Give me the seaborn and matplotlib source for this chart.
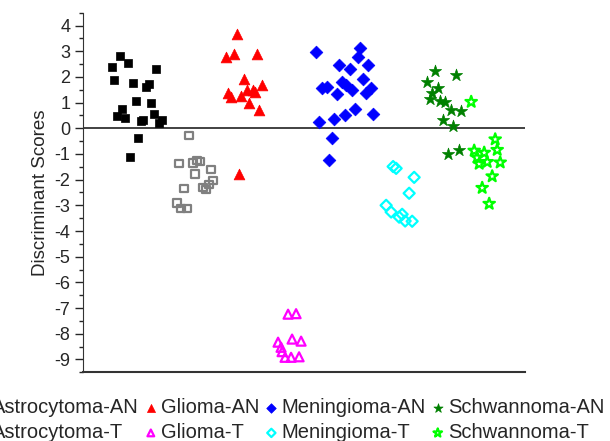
import pandas as pd
import matplotlib
matplotlib.use("Agg")
import matplotlib.pyplot as plt
from matplotlib.ticker import MultipleLocator
import seaborn as sns

# jittered positions along the (unlabelled) x axis and discriminant scores
astro_an_x = [37, 29, 45, 73, 31, 50, 63, 66, 53, 68, 39, 34, 42, 71, 58, 60, 76, 79, 55, 47]
astro_an_y = [2.82, 2.40, 2.53, 2.31, 1.88, 1.75, 1.62, 1.71, 1.07, 0.99, 0.74, 0.48, 0.41,
              0.56, 0.29, 0.34, 0.21, 0.32, -0.38, -1.12]
astro_t_x = [106, 96, 110, 114, 117, 128, 112, 101, 120, 123, 126, 130, 94, 98, 104]
astro_t_y = [-0.29, -1.38, -1.35, -1.25, -1.30, -1.61, -1.78, -2.33, -2.32, -2.38, -2.20,
             -2.03, -2.91, -3.13, -3.12]
glioma_an_x = [154, 143, 151, 174, 161, 179, 145, 148, 164, 170, 172, 158, 166, 176, 156]
glioma_an_y = [3.69, 2.77, 2.88, 2.90, 1.91, 1.69, 1.38, 1.22, 1.48, 1.50, 1.43, 1.25,
               0.99, 0.73, -1.78]
glioma_t_x = [205, 213, 195, 209, 218, 198, 199, 202, 208, 216]
glioma_t_y = [-7.24, -7.22, -8.33, -8.21, -8.29, -8.53, -8.70, -8.92, -8.92, -8.90]
mening_an_x = [233, 277, 275, 256, 267, 285, 239, 244, 259, 263, 280, 269, 254, 283, 288,
               272, 262, 251, 290, 236, 249, 246]
mening_an_y = [2.98, 3.12, 2.77, 2.46, 2.32, 2.46, 1.58, 1.62, 1.80, 1.67, 1.93, 1.49, 1.35,
               1.39, 1.58, 0.77, 0.53, 0.37, 0.56, 0.26, -0.36, -1.25]
mening_t_x = [310, 313, 331, 326, 303, 308, 316, 319, 322, 329]
mening_t_y = [-1.49, -1.56, -1.91, -2.53, -3.00, -3.26, -3.46, -3.35, -3.61, -3.62]
schwan_an_x = [352, 373, 344, 355, 349, 347, 357, 362, 368, 378, 360, 370, 365, 376]
schwan_an_y = [2.23, 2.06, 1.80, 1.56, 1.36, 1.16, 1.07, 1.02, 0.71, 0.68, 0.33, 0.10,
               -1.00, -0.84]
schwan_t_x = [388, 412, 414, 391, 401, 394, 396, 404, 417, 409, 399, 406]
schwan_t_y = [1.03, -0.43, -0.84, -0.87, -0.95, -1.14, -1.38, -1.31, -1.33, -1.87, -2.32, -2.94]

groups = ["Astrocytoma-AN", "Astrocytoma-T", "Glioma-AN", "Glioma-T",
          "Meningioma-AN", "Meningioma-T", "Schwannoma-AN", "Schwannoma-T"]
xs = [astro_an_x, astro_t_x, glioma_an_x, glioma_t_x, mening_an_x, mening_t_x, schwan_an_x, schwan_t_x]
ys = [astro_an_y, astro_t_y, glioma_an_y, glioma_t_y, mening_an_y, mening_t_y, schwan_an_y, schwan_t_y]

df = pd.concat([pd.DataFrame({"x": x, "score": y, "group": g}) for g, x, y in zip(groups, xs, ys)])

# marker, colour, filled, size
styles = {
    "Astrocytoma-AN": ("s", "black", True, 38),
    "Astrocytoma-T": ("s", "#808080", False, 26),
    "Glioma-AN": ("^", "red", True, 60),
    "Glioma-T": ("^", "magenta", False, 42),
    "Meningioma-AN": ("D", "blue", True, 42),
    "Meningioma-T": ("D", "cyan", False, 32),
    "Schwannoma-AN": ("*", "#008000", True, 85),
    "Schwannoma-T": ("*", "#00ff00", False, 75),
}

sns.set_style("white")
plt.rcParams["font.family"] = ["Liberation Sans", "DejaVu Sans"]
plt.rcParams["axes.unicode_minus"] = False

fig, ax = plt.subplots(figsize=(6.1, 4.41), dpi=100)
fig.subplots_adjust(left=0.136, right=0.861, top=0.971, bottom=0.156)

for g in groups:
    m, c, filled, s = styles[g]
    sub = df[df["group"] == g]
    if filled:
        sns.scatterplot(data=sub, x="x", y="score", ax=ax, marker=m, s=s, color=c,
                        edgecolor=c, linewidth=0.5, label=g)
    else:
        sns.scatterplot(data=sub, x="x", y="score", ax=ax, marker=m, s=s, color=c,
                        facecolor="none", edgecolor=c, linewidth=1.6, label=g)

ax.axhline(0, color="#333333", lw=1.3, zorder=0)
ax.set_xlim(0, 442)
ax.set_ylim(-9.5, 4.5)
ax.yaxis.set_major_locator(MultipleLocator(1))
ax.yaxis.set_minor_locator(MultipleLocator(0.5))
ax.tick_params(axis="y", which="major", left=True, length=6, width=1, labelsize=13, pad=3)
ax.tick_params(axis="y", which="minor", left=True, length=3, width=1)
ax.set_xticks([])
ax.set_xlabel("")
ax.set_ylabel("Discriminant Scores", fontsize=13.5, labelpad=4)
for sp in ["top", "right"]:
    ax.spines[sp].set_visible(False)
ax.spines["left"].set_color("#333333")
ax.spines["bottom"].set_color("#333333")
ax.spines["bottom"].set_linewidth(1.5)

# legend is wider than the figure, as in the original (outer columns clipped)
handles, labels = ax.get_legend_handles_labels()
ax.get_legend().remove()
fig.legend(handles, labels, loc="upper center", bbox_to_anchor=(0.473, 0.12), ncol=4,
           frameon=False, fontsize=14.5, handletextpad=0.05, columnspacing=0.15,
           handlelength=0.9, labelspacing=0.3, borderpad=0, markerscale=0.75)

fig.savefig("out.png", dpi=100)
